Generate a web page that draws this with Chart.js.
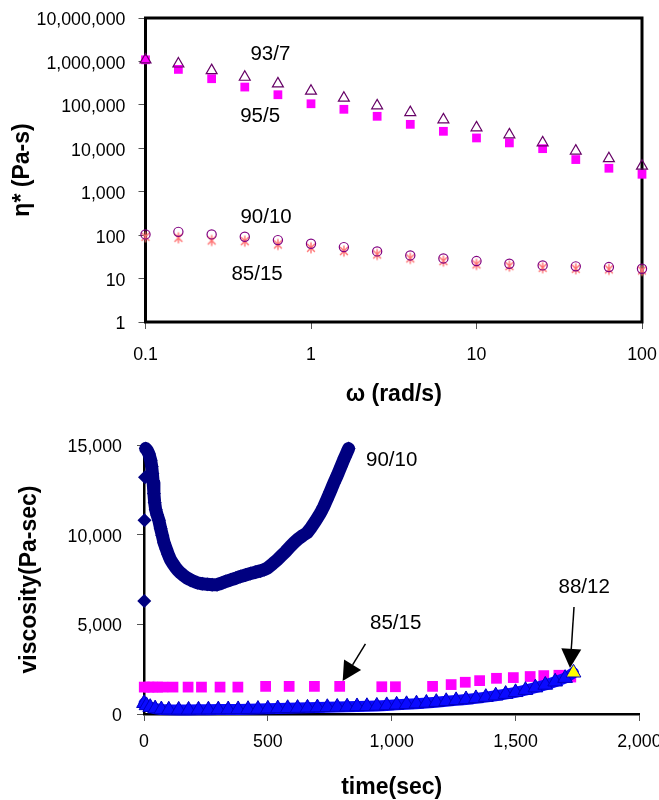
<!DOCTYPE html>
<html>
<head>
<meta charset="utf-8">
<script src="https://cdn.jsdelivr.net/npm/chart.js@4.4.0/dist/chart.umd.min.js"></script>
<style>
  body { margin: 0; background: #fff; width: 659px; height: 800px; overflow: hidden; position: relative; }
  canvas { position: absolute; left: 0; }
  #topChart { top: 0; }
  #botChart { top: 420px; }
</style>
</head>
<body>
<canvas id="topChart" width="659" height="420"></canvas>
<canvas id="botChart" width="659" height="380"></canvas>
<script>
"use strict"

// ---- top panel: complex viscosity vs frequency ----
const freq = [0.1, 0.158, 0.251, 0.398, 0.631, 1, 1.58, 2.51, 3.98, 6.31, 10, 15.8, 25.1, 39.8, 63.1, 100];
const eta93_7  = [1090000, 880000, 620000, 436000, 307000, 208000, 144000, 96000, 67000, 45600, 29900, 20600, 13500, 8700, 5800, 3900];
const eta95_5  = [1090000, 655000, 400000, 257000, 171000, 106000, 79000, 54500, 35600, 24600, 17300, 13300, 9800, 5500, 3470, 2520];
const eta90_10 = [104, 119, 104, 91.6, 76.8, 63.2, 53, 42.2, 34.1, 29.1, 25.3, 21.9, 20.1, 19.1, 18.4, 16.8];
const eta85_15 = [91.6, 86.9, 75.4, 72.7, 61, 51.1, 42.9, 35.9, 29.1, 25.3, 21.2, 19.4, 17.7, 16.8, 16.3, 15.4];
const omegaTicks = [0.1, 1, 10, 100];
const etaTicks = [1, 10, 100, 1000, 10000, 100000, 1000000, 10000000];

// ---- bottom panel: viscosity vs time ----
// first three 90/10 readings sit alone on the axis, the rest form the curve
const time90_10 = [1, 2, 4, 7, 13, 20, 27, 31, 34, 37, 40, 43, 47, 53, 60, 67, 74, 81, 90, 98,
  107, 117, 127, 137, 148, 160, 172, 185, 200, 215, 235, 255, 275, 295, 312, 330, 350, 370, 390, 410,
  430, 450, 470, 485, 500, 520, 538, 555, 572, 590, 608, 625, 642, 658, 675, 692, 712, 725, 738, 752,
  766, 780, 795, 810, 826];
const visc90_10 = [6300, 10800, 13200, 14800, 14700, 14500, 14150, 13800, 13400, 12900, 12300, 11800, 11400, 11100, 10800, 10350, 9950, 9550, 9200, 8900,
  8600, 8380, 8180, 8010, 7860, 7720, 7600, 7500, 7400, 7320, 7260, 7230, 7210, 7210, 7290, 7390, 7480, 7570, 7670, 7750,
  7830, 7910, 7980, 8050, 8150, 8380, 8600, 8830, 9060, 9330, 9580, 9790, 9960, 10100, 10400, 10750, 11200, 11550, 11950, 12400,
  12870, 13300, 13800, 14300, 14800];
const time85_15 = [1, 20, 35, 55, 76, 117, 178, 232, 307, 379, 491, 586, 688, 790, 960, 1015, 1165, 1240, 1297, 1355, 1423, 1491, 1559, 1614, 1675, 1723];
const visc85_15 = [1500, 1500, 1500, 1500, 1500, 1500, 1500, 1500, 1500, 1500, 1540, 1540, 1540, 1540, 1520, 1520, 1540, 1640, 1770, 1860, 1990, 2030, 2090, 2140, 2160, 2060];
const time88_12 = [0, 10, 25, 45, 70, 100, 140, 180, 220, 260, 300, 340, 380, 420, 460, 500, 540, 580, 620, 660,
  700, 740, 780, 820, 860, 900, 940, 980, 1020, 1060, 1100, 1140, 1180, 1220, 1260, 1300, 1340, 1380, 1420, 1460,
  1500, 1540, 1580, 1620, 1660, 1700, 1734];
const visc88_12 = [600, 480, 380, 300, 250, 235, 230, 230, 235, 240, 245, 250, 255, 265, 275, 290, 305, 320, 330, 345,
  360, 375, 390, 405, 420, 430, 450, 480, 510, 540, 575, 615, 660, 710, 760, 810, 870, 940, 1020, 1110,
  1210, 1330, 1470, 1620, 1800, 2000, 2300];
const timeTicks = [0, 500, 1000, 1500, 2000];
const viscTicks = [0, 5000, 10000, 15000];

// text labels and arrows, placed in data units
const topNotes = [
  { text: '93/7', x: 0.568, y: 1480000 },
  { text: '95/5', x: 0.493, y: 54600 },
  { text: '90/10', x: 0.535, y: 259 },
  { text: '85/15', x: 0.472, y: 12.7 }
];
const botNotes = [
  { text: '90/10', x: 1000, y: 14160 },
  { text: '85/15', x: 1016, y: 5040 },
  { text: '88/12', x: 1777, y: 7070 }
];
const botArrows = [
  { from: [894, 3910], to: [802, 1840] },
  { from: [1736, 5970], to: [1720, 2570] }
];

// is the narrow face installed? the original lettering is tall and narrow
const narrowOK = (function () {
  const c = document.createElement('canvas').getContext('2d');
  const s = 'Hamburgefonts 0123456789';
  c.font = '40px monospace';
  const w0 = c.measureText(s).width;
  c.font = '40px "Liberation Sans Narrow", monospace';
  return Math.abs(c.measureText(s).width - w0) > 0.5;
})();
const SANS = '"Liberation Sans", Arial, sans-serif';
const NARROW = '"Liberation Sans Narrow", "Liberation Sans", Arial, sans-serif';
const tickFont = narrowOK ? { family: NARROW, size: 21.5, lineHeight: '26px' } : { family: SANS, size: 17.8, lineHeight: '26px' };
const xTitleFont = narrowOK ? { family: NARROW, size: 27.5, weight: 'bold', lineHeight: '28px' } : { family: SANS, size: 23, weight: 'bold', lineHeight: '28px' };
const yTitleFont = { family: SANS, size: 23, weight: 'bold', lineHeight: '28px' };
const noteFont = narrowOK ? '24px ' + NARROW : '20.5px ' + SANS;

function pts(xs, ys) {
  return xs.map((x, i) => ({ x: x, y: ys[i] }));
}

function asteriskImage(r, color) {
  const c = document.createElement('canvas');
  const s = Math.ceil(r * 2 + 3);
  c.width = c.height = s;
  const g = c.getContext('2d');
  const m = s / 2;
  g.strokeStyle = color;
  g.lineWidth = 1.4;
  g.beginPath();
  [90, 45, 135].forEach(function (deg) {
    const a = deg * Math.PI / 180;
    g.moveTo(m - Math.cos(a) * r, m - Math.sin(a) * r);
    g.lineTo(m + Math.cos(a) * r, m + Math.sin(a) * r);
  });
  g.stroke();
  return c;
}

function drawArrow(ctx, x1, y1, x2, y2, len, half) {
  const ang = Math.atan2(y2 - y1, x2 - x1);
  const bx = x2 - Math.cos(ang) * len, by = y2 - Math.sin(ang) * len;
  ctx.beginPath();
  ctx.moveTo(x1, y1);
  ctx.lineTo(bx, by);
  ctx.stroke();
  ctx.beginPath();
  ctx.moveTo(x2, y2);
  ctx.lineTo(bx + Math.sin(ang) * half, by - Math.cos(ang) * half);
  ctx.lineTo(bx - Math.sin(ang) * half, by + Math.cos(ang) * half);
  ctx.closePath();
  ctx.fill();
}

const framePlugin = {
  id: 'frame',
  beforeDatasetsDraw(chart) {
    const a = chart.chartArea, ctx = chart.ctx;
    ctx.save();
    ctx.lineWidth = 3;
    ctx.strokeStyle = '#000';
    ctx.strokeRect(a.left, a.top, a.right - a.left, a.bottom - a.top);
    ctx.restore();
  }
};

const notesPlugin = {
  id: 'notes',
  afterDatasetsDraw(chart, args, opts) {
    const ctx = chart.ctx, sx = chart.scales.x, sy = chart.scales.y;
    ctx.save();
    ctx.strokeStyle = '#000';
    ctx.fillStyle = '#000';
    ctx.lineWidth = 1.5;
    (opts.arrows || []).forEach(function (a) {
      drawArrow(ctx, sx.getPixelForValue(a.from[0]), sy.getPixelForValue(a.from[1]),
        sx.getPixelForValue(a.to[0]), sy.getPixelForValue(a.to[1]), 19, 10);
    });
    ctx.font = noteFont;
    ctx.textAlign = 'center';
    ctx.textBaseline = 'middle';
    (opts.labels || []).forEach(function (l) {
      ctx.fillText(l.text, sx.getPixelForValue(l.x), sy.getPixelForValue(l.y));
    });
    ctx.restore();
  }
};

function fixedWidth(w) {
  return function (s) { s.width = w; s.paddingTop = 0; s.paddingBottom = 0; };
}
function fixedHeight(h) {
  return function (s) { s.height = h; s.paddingLeft = 0; s.paddingRight = 0; };
}
function setTicks(list) {
  return function (s) { s.ticks = list.map(v => ({ value: v })); };
}

Chart.defaults.font.family = SANS;
Chart.defaults.color = '#000';

// ---------- top chart ----------
new Chart(document.getElementById('topChart'), {
  type: 'scatter',
  data: {
    datasets: [
      {
        label: '93/7', data: pts(freq, eta93_7),
        pointStyle: 'triangle', pointRadius: 6.3, borderWidth: 1.2,
        borderColor: '#660066', backgroundColor: 'rgba(0,0,0,0)'
      },
      {
        label: '95/5', data: pts(freq, eta95_5),
        pointStyle: 'rect', pointRadius: 6.2, borderWidth: 0,
        borderColor: '#ff00ff', backgroundColor: '#ff00ff'
      },
      {
        label: '90/10', data: pts(freq, eta90_10),
        pointStyle: 'circle', pointRadius: 4.6, borderWidth: 1.2,
        borderColor: '#800080', backgroundColor: 'rgba(0,0,0,0)'
      },
      {
        label: '85/15', data: pts(freq, eta85_15),
        pointStyle: asteriskImage(5.5, '#ff7070'), pointRadius: 5.5,
        borderColor: '#ff7070', backgroundColor: '#ff7070'
      }
    ]
  },
  options: {
    responsive: false,
    animation: false,
    devicePixelRatio: 1,
    clip: false,
    layout: { padding: { left: 0, right: 17, top: 18, bottom: 0 } },
    plugins: {
      legend: { display: false },
      tooltip: { enabled: false },
      notes: { labels: topNotes }
    },
    scales: {
      x: {
        type: 'logarithmic', position: 'bottom', min: 0.1, max: 100,
        afterBuildTicks: setTicks(omegaTicks),
        afterFit: fixedHeight(98),
        ticks: {
          font: tickFont, padding: 12.7, maxRotation: 0, autoSkip: false,
          callback: v => String(v)
        },
        grid: { drawOnChartArea: false, tickLength: 7, tickColor: '#555' },
        border: { display: false },
        title: { display: true, text: 'ω (rad/s)', font: xTitleFont, padding: { top: 0, bottom: 11 } }
      },
      y: {
        type: 'logarithmic', position: 'left', min: 1, max: 10000000,
        afterBuildTicks: setTicks(etaTicks),
        afterFit: fixedWidth(145.5),
        ticks: {
          font: tickFont, padding: 13, labelOffset: 2.5, autoSkip: false,
          callback: v => Number(v).toLocaleString('en-US')
        },
        grid: { drawOnChartArea: false, tickLength: 7, tickColor: '#555' },
        border: { display: false },
        title: { display: true, text: 'η* (Pa-s)', font: yTitleFont, padding: { top: 9, bottom: 0 } }
      }
    }
  },
  plugins: [framePlugin, notesPlugin]
});

// ---------- bottom chart ----------
new Chart(document.getElementById('botChart'), {
  type: 'scatter',
  data: {
    datasets: [
      {
        label: '88/12', data: pts(time88_12, visc88_12),
        showLine: true, borderWidth: 11, borderColor: '#0a0aff', tension: 0,
        borderJoinStyle: 'round', borderCapStyle: 'round',
        pointStyle: 'triangle', pointRadius: 8.5, pointBorderWidth: 1,
        pointBorderColor: '#0000c0',
        pointBackgroundColor: visc88_12.map((v, i, a) => i === a.length - 1 ? '#ffff00' : '#0a0aff')
      },
      {
        label: '85/15', data: pts(time85_15, visc85_15),
        pointStyle: 'rect', pointRadius: 7.6, borderWidth: 0,
        borderColor: '#ff00ff', backgroundColor: '#ff00ff'
      },
      {
        label: '90/10', data: pts(time90_10, visc90_10),
        showLine: true, borderWidth: 13, borderColor: '#000080', tension: 0,
        borderJoinStyle: 'round', borderCapStyle: 'round',
        segment: { borderColor: c => c.p0DataIndex < 3 ? 'rgba(0,0,0,0)' : undefined },
        pointStyle: 'rectRot', pointRadius: 7, pointBorderWidth: 0,
        pointBackgroundColor: '#000080', pointBorderColor: '#000080'
      }
    ]
  },
  options: {
    responsive: false,
    animation: false,
    devicePixelRatio: 1,
    clip: false,
    layout: { padding: { left: 0, right: 19.6, top: 25, bottom: 0 } },
    plugins: {
      legend: { display: false },
      tooltip: { enabled: false },
      notes: { labels: botNotes, arrows: botArrows }
    },
    scales: {
      x: {
        type: 'linear', position: 'bottom', min: 0, max: 2000,
        afterBuildTicks: setTicks(timeTicks),
        afterFit: fixedHeight(86),
        ticks: {
          font: tickFont, padding: 8.5, maxRotation: 0, autoSkip: false,
          callback: v => Number(v).toLocaleString('en-US')
        },
        grid: { drawOnChartArea: false, tickLength: 7, tickColor: '#555' },
        border: { display: true, color: '#000', width: 2.5 },
        title: { display: true, text: 'time(sec)', font: Object.assign({}, xTitleFont, { lineHeight: '24px' }), padding: { top: 0, bottom: 0 } }
      },
      y: {
        type: 'linear', position: 'left', min: 0, max: 15000,
        afterBuildTicks: setTicks(viscTicks),
        afterFit: fixedWidth(144),
        ticks: {
          font: tickFont, padding: 15, labelOffset: 2, autoSkip: false,
          callback: v => Number(v).toLocaleString('en-US')
        },
        grid: { drawOnChartArea: false, tickLength: 7, tickColor: '#555' },
        border: { display: true, color: '#000', width: 2.5 },
        title: { display: true, text: 'viscosity(Pa-sec)', font: yTitleFont, padding: { top: 16, bottom: 0 } }
      }
    }
  },
  plugins: [notesPlugin]
});
</script>
</body>
</html>
